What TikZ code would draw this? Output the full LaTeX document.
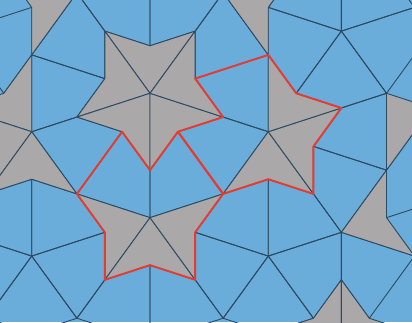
\documentclass[tikz,border=0pt]{standalone}
\usepackage{tikz}
\usetikzlibrary{calc}
\definecolor{tileblue}{HTML}{6AADDB}
\definecolor{tilegray}{HTML}{AAA8A8}
\definecolor{tileink}{HTML}{2C4A62}
\definecolor{tilered}{HTML}{E63B2E}
\begin{document}
\begin{tikzpicture}[x=1pt,y=1pt,line cap=round,line join=round,
  kitetile/.style={draw=tileink,line width=.9pt},
  darttile/.style={fill=tilegray,draw=tileink,line width=.9pt},
  outline/.style={draw=tilered,line width=1.9pt}]
\path[use as bounding box] (0,0) rectangle (412,322);
\def\ts{47.5}
\def\tl{76.85}
\def\tr{124.35}
\coordinate (c1) at (150,228.7);
% stern um c1 und der zehnerring
\foreach \a in {18,90,162,234,306} {
  \coordinate (k\a) at ($(c1)+(\a:\ts)$);
  \coordinate (z\a) at ($(c1)+(\a:\tr)$);
}
\foreach \a in {54,126,198,270,342} {
  \coordinate (o\a) at ($(c1)+(\a:\tl)$);
  \coordinate (z\a) at ($(c1)+(\a:\tr)$);
}
% linker rand
\coordinate (a1) at ($(z162)+(90:\ts)$);
\coordinate (a2) at ($(z126)+(162:\tl)$);
\coordinate (a3) at ($(z162)+(162:\tl)$);
\coordinate (a4) at ($(z162)+(234:\ts)$);
\coordinate (a5) at ($(z198)+(162:\tl)$);
\coordinate (a6) at ($(z198)+(198:\ts)$);
\coordinate (a7) at ($(z198)+(234:\tl)$);
\coordinate (a8) at ($(z198)+(270:\ts)$);
\coordinate (b1) at ($(a8)+(270:\tl)$);
\coordinate (b1a) at ($(b1)+(162:\tl)$);
\coordinate (b1b) at ($(b1)+(198:\tl)$);
\coordinate (b1c) at ($(b1)+(234:\tl)$);
\coordinate (b1d) at ($(b1)+(270:\tl)$);
\coordinate (b1e) at ($(b1)+(306:\tl)$);
% unten: koenig um z270
\coordinate (d1) at ($(z270)+(198:\ts)$);
\coordinate (w1) at ($(z270)+(234:\tl)$);
\coordinate (d2) at ($(z270)+(270:\ts)$);
\coordinate (w2) at ($(z270)+(306:\tl)$);
\coordinate (d3) at ($(z270)+(342:\ts)$);
\coordinate (h1) at ($(d2)+(270:\tl)$);
\coordinate (b2) at ($(d3)+(342:\tl)$);
\coordinate (b2a) at ($(b2)+(234:\tl)$);
\coordinate (b2b) at ($(b2)+(270:\tl)$);
\coordinate (b2c) at ($(b2)+(306:\tl)$);
% rechts: koenig um z342
\coordinate (e1) at ($(z342)+(54:\ts)$);
\coordinate (e2) at ($(z342)+(18:\tl)$);
\coordinate (e3) at ($(z342)+(342:\ts)$);
\coordinate (e4) at ($(z342)+(306:\tl)$);
\coordinate (e5) at ($(z342)+(270:\ts)$);
\coordinate (r1) at ($(z18)+(90:\ts)$);
% rechter rand
\coordinate (u1) at ($(b2)+(18:\tl)$);
\coordinate (u2) at ($(u1)+(18:\ts)$);
\coordinate (u3) at ($(u1)+(270:\ts)$);
\coordinate (u4) at ($(u3)+(270:\tl)$);
\coordinate (u5) at ($(u3)+(306:\ts)$);
\coordinate (u6) at ($(u1)+(342:\tl)$);
\coordinate (u7) at ($(u4)+(18:\tl)$);
\coordinate (t3) at ($(u2)+(90:\ts)$);
\coordinate (t2) at ($(t3)+(90:\tl)$);
\coordinate (t1) at ($(t2)+(126:\tl)$);
\coordinate (t4) at ($(t3)+(54:\ts)$);
\coordinate (t5) at ($(t2)+(342:\tl)$);
\coordinate (t6) at ($(t2)+(54:\ts)$);
\coordinate (t7) at ($(t1)+(18:\tl)$);
\coordinate (t8) at ($(t1)+(54:\tl)$);
\coordinate (t9) at ($(t1)+(90:\tl)$);
\coordinate (t10) at ($(t1)+(126:\tl)$);
\coordinate (t11) at ($(t3)+(342:\tl)$);
\begin{scope}
\clip (0,0) rectangle (412,322);
\fill[tileblue] (0,0) rectangle (412,322);
% drachen
\foreach \a/\b in {18/54,18/342,90/126,90/54,162/198,162/126,234/270,234/198,306/342,306/270}
  \path[kitetile] (z\a)--(k\a)--(o\b)--(z\b)--cycle;
\path[kitetile] (a3)--(a1)--(z162)--(a4)--cycle;
\path[kitetile] (t1)--(r1)--(z18)--(e1)--cycle;
\path[kitetile] (t1)--(r1)--(t10)--(t9)--cycle;
\path[kitetile] (t1)--(e1)--(e2)--(t2)--cycle;
\path[kitetile] (t1)--(t2)--(t6)--(t7)--cycle;
\path[kitetile] (t1)--(t7)--(t8)--(t9)--cycle;
\path[kitetile] (t3)--(t2)--(e2)--(e3)--cycle;
\path[kitetile] (t3)--(e3)--(e4)--(u1)--cycle;
\path[kitetile] (t11)--(u2)--(t3)--(t4)--cycle;
\path[kitetile] (b2)--(d3)--(z306)--(e5)--cycle;
\path[kitetile] (b2)--(d3)--(w2)--(b2a)--cycle;
\path[kitetile] (b2)--(e5)--(e4)--(u1)--cycle;
\path[kitetile] (b2)--(u1)--(u3)--(b2c)--cycle;
\path[kitetile] (b2)--(b2a)--(b2b)--(b2c)--cycle;
\path[kitetile] (u6)--(u1)--(u3)--(u5)--cycle;
\path[kitetile] (b1)--(a8)--(z234)--(d1)--cycle;
\path[kitetile] (b1)--(a8)--(a7)--(b1a)--cycle;
\path[kitetile] (b1)--(b1a)--(b1b)--(b1c)--cycle;
\path[kitetile] (b1)--(b1c)--(b1d)--(b1e)--cycle;
\path[kitetile] (b1)--(b1e)--(w1)--(d1)--cycle;
\path[kitetile] (h1)--(d2)--(w1)--(b1e)--cycle;
\path[kitetile] (h1)--(d2)--(w2)--(b2a)--cycle;
% pfeile (darts)
\foreach \a/\b/\c in {54/90/126,126/162/198,198/234/270,270/306/342,342/18/54}
  \path[darttile] (c1)--(o\a)--(k\b)--(o\c)--cycle;
\path[darttile] (z126)--(z162)--(a1)--(a2)--cycle;
\path[darttile] (z54)--(z18)--(r1)--(t10)--cycle;
\path[darttile] (z198)--(z162)--(a4)--(a5)--cycle;
\path[darttile] (z198)--(a5)--(a6)--(a7)--cycle;
\path[darttile] (z198)--(a7)--(a8)--(z234)--cycle;
\path[darttile] (z270)--(z234)--(d1)--(w1)--cycle;
\path[darttile] (z270)--(w1)--(d2)--(w2)--cycle;
\path[darttile] (z270)--(w2)--(d3)--(z306)--cycle;
\path[darttile] (z342)--(z306)--(e5)--(e4)--cycle;
\path[darttile] (z342)--(e4)--(e3)--(e2)--cycle;
\path[darttile] (z342)--(e2)--(e1)--(z18)--cycle;
\path[darttile] (t2)--(t3)--(t4)--(t5)--cycle;
\path[darttile] (u1)--(t3)--(u2)--(u6)--cycle;
\path[darttile] (u4)--(u3)--(b2c)--(b2b)--cycle;
\path[darttile] (u4)--(u3)--(u5)--(u7)--cycle;
% rote umrisse
\path[outline] (k18)--(o342)--(k306)--(z306)--(e5)--(e4)--(e3)--(e2)--(e1)--(z18)--cycle;
\path[outline] (k234)--(o270)--(k306)--(z306)--(d3)--(w2)--(d2)--(w1)--(d1)--(z234)--cycle;
\end{scope}
\end{tikzpicture}
\end{document}
